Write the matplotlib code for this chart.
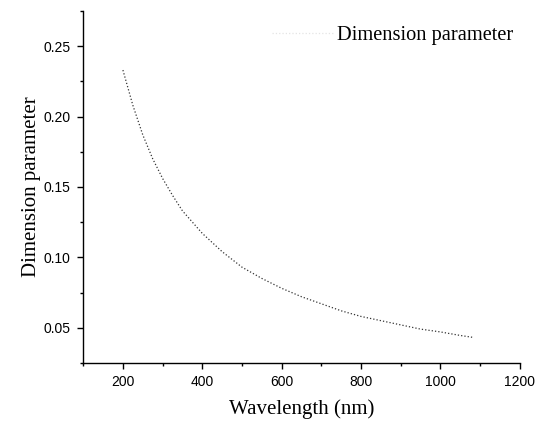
import numpy as np
import matplotlib.pyplot as plt
from matplotlib.ticker import MultipleLocator

# data
wavelength = [200, 225, 250, 275, 300, 325, 350, 375, 400, 450, 500, 550,
              600, 650, 700, 750, 800, 850, 900, 950, 1000, 1050, 1085]
dim_param = [0.233, 0.208, 0.187, 0.170, 0.156, 0.144, 0.133, 0.125, 0.117,
             0.104, 0.093, 0.085, 0.078, 0.072, 0.067, 0.062, 0.058, 0.055,
             0.052, 0.049, 0.047, 0.0445, 0.043]

fig = plt.figure(figsize=(5.37, 4.21), dpi=100)
ax = fig.add_axes([0.155, 0.138, 0.813, 0.836])

ax.plot(wavelength, dim_param, color='#333333', linestyle=':', linewidth=0.9,
        label='Dimension parameter')

ax.set_xlim(100, 1200)
ax.set_ylim(0.025, 0.275)
ax.xaxis.set_major_locator(MultipleLocator(200))
ax.xaxis.set_minor_locator(MultipleLocator(100))
ax.yaxis.set_major_locator(MultipleLocator(0.05))
ax.yaxis.set_minor_locator(MultipleLocator(0.025))
ax.yaxis.set_major_formatter(plt.FuncFormatter(lambda v, p: '%.2f' % v))

for s in ['top', 'right']:
    ax.spines[s].set_visible(False)
for s in ['left', 'bottom']:
    ax.spines[s].set_linewidth(1.0)
ax.tick_params(which='major', direction='out', length=4, width=1,
               labelsize=10, pad=5)
ax.tick_params(which='minor', direction='out', length=2.5, width=1)
for lab in ax.get_xticklabels() + ax.get_yticklabels():
    lab.set_family('Liberation Sans')

ax.set_xlabel('Wavelength (nm)', family='Liberation Serif', fontsize=15,
              labelpad=7)
ax.set_ylabel('Dimension parameter', family='Liberation Serif', fontsize=15,
              labelpad=2)

leg = ax.legend(loc='upper right', frameon=False,
                prop={'family': 'Liberation Serif', 'size': 14.7},
                handlelength=3.0, handletextpad=0.2, borderaxespad=0.0,
                borderpad=0.3, bbox_to_anchor=(1.0, 0.975))
leg.get_lines()[0].set_color('#e4e4e4')

plt.savefig('out.png')
